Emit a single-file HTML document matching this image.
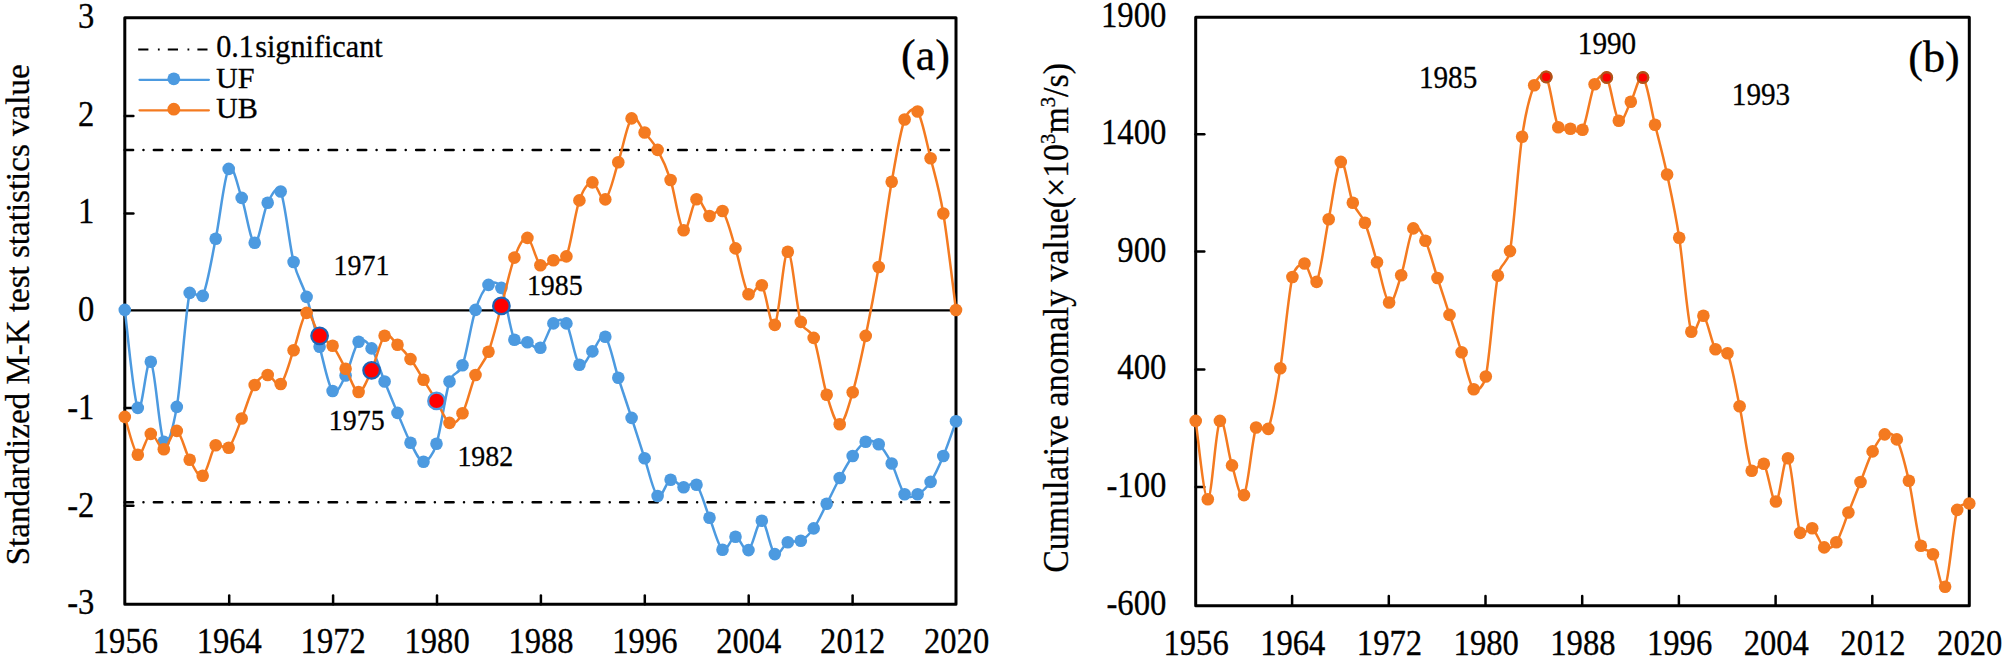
<!DOCTYPE html>
<html lang="en"><head><meta charset="utf-8"><title>M-K test and cumulative anomaly</title>
<style>html,body{margin:0;padding:0;background:#fff}body{width:2005px;height:658px;overflow:hidden}svg{display:block}</style>
</head><body>
<svg width="2005" height="658" viewBox="0 0 2005 658" font-family="'Liberation Serif', 'Times New Roman', serif" fill="#000">
<style>text{stroke:#000;stroke-width:0.3px}</style>
<rect width="2005" height="658" fill="#fff"/>
<line x1="124.7" y1="150.1" x2="954.0" y2="150.1" stroke="#000" stroke-width="2.5" stroke-linecap="round" stroke-dasharray="8.4 10.365 0.01 10.365"/>
<line x1="124.7" y1="502.2" x2="954.0" y2="502.2" stroke="#000" stroke-width="2.5" stroke-linecap="round" stroke-dasharray="8.4 10.365 0.01 10.365"/>
<line x1="124.8" y1="310.3" x2="956.0" y2="310.3" stroke="#000" stroke-width="2.3"/>
<line x1="229.2" y1="604.2" x2="229.2" y2="595.6" stroke="#000" stroke-width="2.5" stroke-linecap="round"/>
<line x1="333.1" y1="604.2" x2="333.1" y2="595.6" stroke="#000" stroke-width="2.5" stroke-linecap="round"/>
<line x1="437.0" y1="604.2" x2="437.0" y2="595.6" stroke="#000" stroke-width="2.5" stroke-linecap="round"/>
<line x1="540.9" y1="604.2" x2="540.9" y2="595.6" stroke="#000" stroke-width="2.5" stroke-linecap="round"/>
<line x1="644.8" y1="604.2" x2="644.8" y2="595.6" stroke="#000" stroke-width="2.5" stroke-linecap="round"/>
<line x1="748.7" y1="604.2" x2="748.7" y2="595.6" stroke="#000" stroke-width="2.5" stroke-linecap="round"/>
<line x1="852.6" y1="604.2" x2="852.6" y2="595.6" stroke="#000" stroke-width="2.5" stroke-linecap="round"/>
<line x1="124.8" y1="116.0" x2="133.4" y2="116.0" stroke="#000" stroke-width="2.5" stroke-linecap="round"/>
<line x1="124.8" y1="213.6" x2="133.4" y2="213.6" stroke="#000" stroke-width="2.5" stroke-linecap="round"/>
<line x1="124.8" y1="408.0" x2="133.4" y2="408.0" stroke="#000" stroke-width="2.5" stroke-linecap="round"/>
<line x1="124.8" y1="505.7" x2="133.4" y2="505.7" stroke="#000" stroke-width="2.5" stroke-linecap="round"/>
<rect x="124.8" y="17.7" width="831.2" height="586.5" fill="none" stroke="#000" stroke-width="3" stroke-linejoin="round"/>
<path d="M124.8,309.9C127.0,326.2 133.5,399.3 137.8,407.9C142.1,416.5 146.4,356.0 150.8,361.7C155.1,367.4 159.4,434.3 163.8,441.8C168.1,449.3 173.6,425.2 176.8,406.9C181.1,382.1 185.4,311.4 189.7,292.9C191.3,286.4 199.8,301.9 202.7,295.9C207.1,286.9 211.4,260.0 215.7,238.8C220.0,217.6 224.4,175.7 228.7,168.9C233.0,162.1 237.4,185.6 241.7,197.9C246.0,210.2 250.3,241.9 254.7,242.7C259.0,243.5 263.3,211.3 267.7,202.8C271.6,195.1 277.2,183.6 280.7,191.5C285.0,201.4 289.3,244.4 293.6,262.0C298.0,279.6 302.3,282.8 306.6,296.9C311.0,311.0 315.3,331.1 319.6,346.8C323.9,362.5 328.3,386.2 332.6,391.0C336.9,395.8 341.3,383.7 345.6,375.5C349.9,367.3 354.2,346.3 358.6,341.8C362.9,337.3 367.6,342.3 371.6,348.4C375.9,355.0 380.2,370.8 384.6,381.5C388.9,392.2 393.2,402.7 397.5,412.9C401.9,423.1 406.2,434.6 410.5,442.8C414.9,451.0 419.2,461.6 423.5,461.8C427.8,462.0 433.1,454.4 436.5,443.8C440.8,430.4 445.2,394.6 449.5,381.5C452.7,371.6 458.9,375.1 462.5,365.3C466.8,353.4 471.1,323.3 475.5,309.9C479.8,296.5 484.1,288.6 488.5,284.9C492.8,281.2 498.6,281.9 501.4,287.9C505.8,297.0 510.1,330.8 514.4,339.8C517.3,345.8 523.1,340.9 527.4,342.2C531.7,343.5 536.1,350.9 540.4,347.8C544.7,344.7 549.1,327.5 553.4,323.4C557.7,319.3 562.9,317.9 566.4,323.4C570.7,330.3 575.0,360.1 579.4,364.8C583.7,369.5 588.0,356.1 592.4,351.4C596.7,346.7 601.0,332.4 605.3,336.8C609.7,341.2 613.9,364.3 618.3,377.8C622.7,391.3 627.2,404.5 631.6,417.9C636.0,431.3 640.3,445.3 644.6,458.3C648.9,471.3 653.3,492.4 657.6,496.0C661.9,499.6 666.2,481.2 670.6,479.8C674.9,478.4 679.2,486.5 683.6,487.3C687.9,488.1 692.3,479.8 696.5,484.8C700.9,489.9 705.2,507.0 709.5,517.8C713.9,528.6 718.2,546.5 722.5,549.7C726.9,552.9 731.2,536.7 735.5,536.8C739.8,536.9 744.1,552.8 748.5,550.1C752.9,547.4 757.4,520.1 761.8,520.8C766.2,521.5 770.4,550.5 774.8,554.1C779.1,557.7 783.4,544.5 787.8,542.3C792.1,540.1 796.4,543.0 800.8,540.7C805.1,538.4 809.4,534.5 813.7,528.4C818.1,522.2 822.4,512.2 826.7,503.8C831.1,495.4 835.4,486.0 839.7,478.0C844.0,470.0 848.4,462.1 852.7,456.0C857.0,449.9 861.4,443.6 865.7,441.7C870.0,439.8 874.3,440.7 878.7,444.3C883.0,447.9 887.3,455.2 891.7,463.5C896.0,471.8 900.3,489.2 904.6,494.3C908.8,499.3 913.3,496.4 917.6,494.3C922.0,492.2 926.3,488.3 930.6,481.9C934.9,475.5 939.1,466.1 943.3,456.0C947.5,445.9 953.9,427.1 956.0,421.3" fill="none" stroke="#4C9AE0" stroke-width="2.5" stroke-linejoin="round"/>
<g fill="#4C9AE0"><circle cx="124.8" cy="309.9" r="6.3"/><circle cx="137.8" cy="407.9" r="6.3"/><circle cx="150.8" cy="361.7" r="6.3"/><circle cx="163.8" cy="441.8" r="6.3"/><circle cx="176.8" cy="406.9" r="6.3"/><circle cx="189.7" cy="292.9" r="6.3"/><circle cx="202.7" cy="295.9" r="6.3"/><circle cx="215.7" cy="238.8" r="6.3"/><circle cx="228.7" cy="168.9" r="6.3"/><circle cx="241.7" cy="197.9" r="6.3"/><circle cx="254.7" cy="242.7" r="6.3"/><circle cx="267.7" cy="202.8" r="6.3"/><circle cx="280.7" cy="191.5" r="6.3"/><circle cx="293.6" cy="262.0" r="6.3"/><circle cx="306.6" cy="296.9" r="6.3"/><circle cx="319.6" cy="346.8" r="6.3"/><circle cx="332.6" cy="391.0" r="6.3"/><circle cx="345.6" cy="375.5" r="6.3"/><circle cx="358.6" cy="341.8" r="6.3"/><circle cx="371.6" cy="348.4" r="6.3"/><circle cx="384.6" cy="381.5" r="6.3"/><circle cx="397.5" cy="412.9" r="6.3"/><circle cx="410.5" cy="442.8" r="6.3"/><circle cx="423.5" cy="461.8" r="6.3"/><circle cx="436.5" cy="443.8" r="6.3"/><circle cx="449.5" cy="381.5" r="6.3"/><circle cx="462.5" cy="365.3" r="6.3"/><circle cx="475.5" cy="309.9" r="6.3"/><circle cx="488.5" cy="284.9" r="6.3"/><circle cx="501.4" cy="287.9" r="6.3"/><circle cx="514.4" cy="339.8" r="6.3"/><circle cx="527.4" cy="342.2" r="6.3"/><circle cx="540.4" cy="347.8" r="6.3"/><circle cx="553.4" cy="323.4" r="6.3"/><circle cx="566.4" cy="323.4" r="6.3"/><circle cx="579.4" cy="364.8" r="6.3"/><circle cx="592.4" cy="351.4" r="6.3"/><circle cx="605.3" cy="336.8" r="6.3"/><circle cx="618.3" cy="377.8" r="6.3"/><circle cx="631.6" cy="417.9" r="6.3"/><circle cx="644.6" cy="458.3" r="6.3"/><circle cx="657.6" cy="496.0" r="6.3"/><circle cx="670.6" cy="479.8" r="6.3"/><circle cx="683.6" cy="487.3" r="6.3"/><circle cx="696.5" cy="484.8" r="6.3"/><circle cx="709.5" cy="517.8" r="6.3"/><circle cx="722.5" cy="549.7" r="6.3"/><circle cx="735.5" cy="536.8" r="6.3"/><circle cx="748.5" cy="550.1" r="6.3"/><circle cx="761.8" cy="520.8" r="6.3"/><circle cx="774.8" cy="554.1" r="6.3"/><circle cx="787.8" cy="542.3" r="6.3"/><circle cx="800.8" cy="540.7" r="6.3"/><circle cx="813.7" cy="528.4" r="6.3"/><circle cx="826.7" cy="503.8" r="6.3"/><circle cx="839.7" cy="478.0" r="6.3"/><circle cx="852.7" cy="456.0" r="6.3"/><circle cx="865.7" cy="441.7" r="6.3"/><circle cx="878.7" cy="444.3" r="6.3"/><circle cx="891.7" cy="463.5" r="6.3"/><circle cx="904.6" cy="494.3" r="6.3"/><circle cx="917.6" cy="494.3" r="6.3"/><circle cx="930.6" cy="481.9" r="6.3"/><circle cx="943.3" cy="456.0" r="6.3"/><circle cx="956.0" cy="421.3" r="6.3"/></g>
<path d="M124.8,416.9C127.0,423.2 133.5,452.0 137.8,454.8C142.1,457.6 146.4,434.8 150.8,433.9C155.1,433.0 159.4,449.7 163.8,449.2C168.1,448.7 172.4,429.1 176.8,430.9C181.1,432.7 185.4,452.3 189.7,459.8C194.1,467.3 198.4,478.1 202.7,475.7C207.1,473.3 211.4,449.8 215.7,445.2C220.0,440.6 224.4,452.2 228.7,447.8C233.0,443.4 237.4,429.0 241.7,418.5C246.0,408.0 250.3,392.2 254.7,385.0C258.9,378.0 263.3,375.2 267.7,375.0C272.0,374.8 276.3,388.1 280.7,384.0C285.0,379.9 289.3,362.1 293.6,350.2C298.0,338.3 302.3,315.3 306.6,312.9C311.0,310.5 315.3,330.3 319.6,335.8C323.9,341.3 328.3,340.3 332.6,345.8C336.9,351.3 341.3,361.0 345.6,368.7C349.9,376.4 354.2,391.7 358.6,392.0C362.9,392.3 367.2,379.7 371.6,370.3C375.9,360.9 380.2,340.1 384.6,335.8C388.9,331.6 393.2,340.9 397.5,344.8C401.9,348.7 406.2,353.3 410.5,359.1C414.9,364.9 419.2,372.8 423.5,379.8C427.8,386.8 432.2,393.7 436.5,400.9C440.8,408.1 445.2,420.8 449.5,422.9C453.8,425.0 458.6,420.4 462.5,413.3C466.8,405.3 471.1,385.2 475.5,375.0C479.8,364.8 484.1,363.3 488.5,351.8C492.8,340.3 497.1,321.6 501.4,305.9C505.8,290.2 510.1,268.9 514.4,257.6C518.6,246.6 523.1,236.6 527.4,237.9C531.7,239.2 536.1,261.5 540.4,265.2C544.7,268.9 549.1,261.7 553.4,260.2C557.7,258.7 563.7,262.6 566.4,256.4C570.7,246.4 575.0,212.7 579.4,200.4C583.0,189.9 588.0,182.6 592.4,182.4C596.7,182.2 601.0,202.8 605.3,199.4C609.7,196.0 613.9,175.7 618.3,162.2C622.7,148.7 627.2,123.4 631.6,118.4C636.0,113.5 640.3,127.2 644.6,132.5C648.9,137.8 653.3,142.0 657.6,149.9C661.9,157.8 666.2,166.6 670.6,180.0C674.9,193.4 679.2,227.1 683.6,230.3C687.9,233.5 692.2,201.7 696.5,199.3C700.9,196.9 705.2,214.1 709.5,216.0C713.9,217.9 718.2,205.6 722.5,211.0C726.9,216.4 731.2,234.5 735.5,248.4C739.8,262.3 744.1,288.2 748.5,294.3C752.9,300.4 757.4,280.2 761.8,285.3C766.2,290.4 770.4,330.5 774.8,324.9C779.1,319.3 783.4,252.3 787.8,251.8C792.1,251.3 796.4,307.5 800.8,321.9C803.7,331.8 810.3,328.2 813.7,337.9C818.1,350.0 822.4,380.3 826.7,394.7C831.1,409.1 835.4,424.7 839.7,424.3C844.0,423.9 848.4,406.9 852.7,392.2C857.0,377.5 861.4,356.8 865.7,335.9C870.0,315.0 874.3,292.7 878.7,267.0C883.0,241.3 887.3,206.4 891.7,181.8C896.0,157.2 900.3,131.2 904.6,119.5C907.3,112.3 913.4,105.2 917.6,111.5C922.0,118.0 926.3,141.2 930.6,158.2C934.9,175.2 939.1,188.2 943.3,213.5C947.5,238.8 953.9,293.9 956.0,310.0" fill="none" stroke="#F47A20" stroke-width="2.5" stroke-linejoin="round"/>
<g fill="#F47A20"><circle cx="124.8" cy="416.9" r="6.3"/><circle cx="137.8" cy="454.8" r="6.3"/><circle cx="150.8" cy="433.9" r="6.3"/><circle cx="163.8" cy="449.2" r="6.3"/><circle cx="176.8" cy="430.9" r="6.3"/><circle cx="189.7" cy="459.8" r="6.3"/><circle cx="202.7" cy="475.7" r="6.3"/><circle cx="215.7" cy="445.2" r="6.3"/><circle cx="228.7" cy="447.8" r="6.3"/><circle cx="241.7" cy="418.5" r="6.3"/><circle cx="254.7" cy="385.0" r="6.3"/><circle cx="267.7" cy="375.0" r="6.3"/><circle cx="280.7" cy="384.0" r="6.3"/><circle cx="293.6" cy="350.2" r="6.3"/><circle cx="306.6" cy="312.9" r="6.3"/><circle cx="319.6" cy="335.8" r="6.3"/><circle cx="332.6" cy="345.8" r="6.3"/><circle cx="345.6" cy="368.7" r="6.3"/><circle cx="358.6" cy="392.0" r="6.3"/><circle cx="371.6" cy="370.3" r="6.3"/><circle cx="384.6" cy="335.8" r="6.3"/><circle cx="397.5" cy="344.8" r="6.3"/><circle cx="410.5" cy="359.1" r="6.3"/><circle cx="423.5" cy="379.8" r="6.3"/><circle cx="436.5" cy="400.9" r="6.3"/><circle cx="449.5" cy="422.9" r="6.3"/><circle cx="462.5" cy="413.3" r="6.3"/><circle cx="475.5" cy="375.0" r="6.3"/><circle cx="488.5" cy="351.8" r="6.3"/><circle cx="501.4" cy="305.9" r="6.3"/><circle cx="514.4" cy="257.6" r="6.3"/><circle cx="527.4" cy="237.9" r="6.3"/><circle cx="540.4" cy="265.2" r="6.3"/><circle cx="553.4" cy="260.2" r="6.3"/><circle cx="566.4" cy="256.4" r="6.3"/><circle cx="579.4" cy="200.4" r="6.3"/><circle cx="592.4" cy="182.4" r="6.3"/><circle cx="605.3" cy="199.4" r="6.3"/><circle cx="618.3" cy="162.2" r="6.3"/><circle cx="631.6" cy="118.4" r="6.3"/><circle cx="644.6" cy="132.5" r="6.3"/><circle cx="657.6" cy="149.9" r="6.3"/><circle cx="670.6" cy="180.0" r="6.3"/><circle cx="683.6" cy="230.3" r="6.3"/><circle cx="696.5" cy="199.3" r="6.3"/><circle cx="709.5" cy="216.0" r="6.3"/><circle cx="722.5" cy="211.0" r="6.3"/><circle cx="735.5" cy="248.4" r="6.3"/><circle cx="748.5" cy="294.3" r="6.3"/><circle cx="761.8" cy="285.3" r="6.3"/><circle cx="774.8" cy="324.9" r="6.3"/><circle cx="787.8" cy="251.8" r="6.3"/><circle cx="800.8" cy="321.9" r="6.3"/><circle cx="813.7" cy="337.9" r="6.3"/><circle cx="826.7" cy="394.7" r="6.3"/><circle cx="839.7" cy="424.3" r="6.3"/><circle cx="852.7" cy="392.2" r="6.3"/><circle cx="865.7" cy="335.9" r="6.3"/><circle cx="878.7" cy="267.0" r="6.3"/><circle cx="891.7" cy="181.8" r="6.3"/><circle cx="904.6" cy="119.5" r="6.3"/><circle cx="917.6" cy="111.5" r="6.3"/><circle cx="930.6" cy="158.2" r="6.3"/><circle cx="943.3" cy="213.5" r="6.3"/><circle cx="956.0" cy="310.0" r="6.3"/></g>
<circle cx="319.6" cy="335.8" r="8.3" fill="#FF0000" stroke="#1C63B5" stroke-width="2.2"/>
<circle cx="371.6" cy="370.3" r="8.3" fill="#FF0000" stroke="#1C63B5" stroke-width="2.2"/>
<circle cx="436.5" cy="400.9" r="8.3" fill="#FF0000" stroke="#4C9AE0" stroke-width="2.2"/>
<circle cx="501.4" cy="305.9" r="8.3" fill="#FF0000" stroke="#1C63B5" stroke-width="2.2"/>
<text transform="translate(94.3 27.7) scale(0.934 1)" font-size="34.9" text-anchor="end">3</text>
<text transform="translate(94.3 125.5) scale(0.934 1)" font-size="34.9" text-anchor="end">2</text>
<text transform="translate(94.3 223.2) scale(0.934 1)" font-size="34.9" text-anchor="end">1</text>
<text transform="translate(94.3 320.9) scale(0.934 1)" font-size="34.9" text-anchor="end">0</text>
<text transform="translate(94.3 418.7) scale(0.934 1)" font-size="34.9" text-anchor="end">-1</text>
<text transform="translate(94.3 516.5) scale(0.934 1)" font-size="34.9" text-anchor="end">-2</text>
<text transform="translate(94.3 614.2) scale(0.934 1)" font-size="34.9" text-anchor="end">-3</text>
<text transform="translate(125.4 653.3) scale(0.934 1)" font-size="34.9" text-anchor="middle">1956</text>
<text transform="translate(229.3 653.3) scale(0.934 1)" font-size="34.9" text-anchor="middle">1964</text>
<text transform="translate(333.2 653.3) scale(0.934 1)" font-size="34.9" text-anchor="middle">1972</text>
<text transform="translate(437.1 653.3) scale(0.934 1)" font-size="34.9" text-anchor="middle">1980</text>
<text transform="translate(541.0 653.3) scale(0.934 1)" font-size="34.9" text-anchor="middle">1988</text>
<text transform="translate(644.9 653.3) scale(0.934 1)" font-size="34.9" text-anchor="middle">1996</text>
<text transform="translate(748.8 653.3) scale(0.934 1)" font-size="34.9" text-anchor="middle">2004</text>
<text transform="translate(852.7 653.3) scale(0.934 1)" font-size="34.9" text-anchor="middle">2012</text>
<text transform="translate(956.6 653.3) scale(0.934 1)" font-size="34.9" text-anchor="middle">2020</text>
<text transform="translate(29.2 565.3) rotate(-90) scale(0.9605 1)" font-size="34.4">Standardized M-K test statistics value</text>
<line x1="138.2" y1="49.5" x2="207.5" y2="49.5" stroke="#000" stroke-width="2.2" stroke-dasharray="10.2 9.5 1.8 8.1"/>
<line x1="139.5" y1="79.8" x2="208.9" y2="79.8" stroke="#4C9AE0" stroke-width="2.2" stroke-linecap="round"/><circle cx="173.8" cy="78.8" r="6.4" fill="#4C9AE0"/>
<line x1="139.5" y1="110.3" x2="208.9" y2="110.3" stroke="#F47A20" stroke-width="2.2" stroke-linecap="round"/><circle cx="173.8" cy="109.2" r="6.4" fill="#F47A20"/>
<text transform="translate(216.2 57.4) scale(0.975 1)" font-size="31.0">0.1<tspan dx="1.2">significant</tspan></text>
<text transform="translate(216.0 87.7) scale(1.0 1)" font-size="30.2">UF</text>
<text transform="translate(216.0 118.1) scale(1.0 1)" font-size="30.2">UB</text>
<text x="901" y="69.8" font-size="44">(a)</text>
<text transform="translate(333.6 274.5) scale(0.915 1)" font-size="30.5">1971</text>
<text transform="translate(526.9 295.2) scale(0.915 1)" font-size="30.5">1985</text>
<text transform="translate(328.8 430.2) scale(0.915 1)" font-size="30.5">1975</text>
<text transform="translate(457.4 466.0) scale(0.915 1)" font-size="30.5">1982</text>
<line x1="1292.1" y1="605.7" x2="1292.1" y2="596.1" stroke="#000" stroke-width="2.5" stroke-linecap="round"/>
<line x1="1388.8" y1="605.7" x2="1388.8" y2="596.1" stroke="#000" stroke-width="2.5" stroke-linecap="round"/>
<line x1="1485.5" y1="605.7" x2="1485.5" y2="596.1" stroke="#000" stroke-width="2.5" stroke-linecap="round"/>
<line x1="1582.2" y1="605.7" x2="1582.2" y2="596.1" stroke="#000" stroke-width="2.5" stroke-linecap="round"/>
<line x1="1678.9" y1="605.7" x2="1678.9" y2="596.1" stroke="#000" stroke-width="2.5" stroke-linecap="round"/>
<line x1="1775.6" y1="605.7" x2="1775.6" y2="596.1" stroke="#000" stroke-width="2.5" stroke-linecap="round"/>
<line x1="1872.3" y1="605.7" x2="1872.3" y2="596.1" stroke="#000" stroke-width="2.5" stroke-linecap="round"/>
<line x1="1195.7" y1="134.3" x2="1204.3" y2="134.3" stroke="#000" stroke-width="2.5" stroke-linecap="round"/>
<line x1="1195.7" y1="251.5" x2="1204.3" y2="251.5" stroke="#000" stroke-width="2.5" stroke-linecap="round"/>
<line x1="1195.7" y1="369.6" x2="1204.3" y2="369.6" stroke="#000" stroke-width="2.5" stroke-linecap="round"/>
<line x1="1195.7" y1="487.1" x2="1204.3" y2="487.1" stroke="#000" stroke-width="2.5" stroke-linecap="round"/>
<rect x="1195.7" y="17.3" width="773.5999999999999" height="588.4000000000001" fill="none" stroke="#000" stroke-width="3" stroke-linejoin="round"/>
<path d="M1195.7,420.9C1197.7,434.0 1203.8,499.3 1207.8,499.3C1211.8,499.3 1215.8,426.5 1219.9,420.9C1223.9,415.2 1227.9,453.0 1232.0,465.4C1236.0,477.8 1240.0,501.4 1244.0,495.1C1248.1,488.8 1252.1,438.5 1256.1,427.5C1258.2,421.8 1265.9,434.5 1268.2,428.9C1272.3,419.0 1276.3,393.6 1280.3,368.3C1284.3,343.0 1288.4,294.5 1292.4,277.0C1294.4,268.2 1300.5,262.7 1304.5,263.5C1308.5,264.3 1312.5,289.3 1316.6,281.9C1320.6,274.5 1324.6,239.2 1328.7,219.2C1332.7,199.2 1336.7,164.6 1340.8,161.9C1344.8,159.2 1348.8,192.7 1352.8,202.8C1356.9,213.0 1360.9,212.9 1364.9,222.8C1369.0,232.7 1373.0,249.0 1377.0,262.3C1381.0,275.6 1385.1,300.3 1389.1,302.5C1393.1,304.7 1397.2,287.7 1401.2,275.3C1405.2,262.9 1409.2,234.2 1413.3,228.4C1417.3,222.6 1421.6,232.9 1425.4,240.7C1429.4,249.0 1433.4,265.6 1437.5,278.0C1441.5,290.4 1445.5,302.5 1449.5,314.9C1453.6,327.3 1457.6,339.8 1461.6,352.2C1465.7,364.6 1469.7,385.2 1473.7,389.3C1477.7,393.4 1484.0,385.1 1485.8,376.5C1489.8,357.6 1493.9,296.5 1497.9,275.6C1500.5,262.2 1507.6,264.6 1510.0,251.1C1514.0,228.0 1518.0,164.5 1522.1,136.8C1525.9,110.6 1530.1,95.2 1534.2,85.2C1536.9,78.4 1542.6,70.5 1546.2,76.9C1550.3,83.9 1554.3,118.7 1558.3,127.3C1560.9,132.8 1566.4,128.3 1570.4,128.7C1574.4,129.1 1579.6,135.0 1582.5,129.7C1586.5,122.3 1590.6,92.9 1594.6,84.2C1597.5,77.9 1602.9,71.7 1606.7,77.5C1610.7,83.6 1614.7,116.7 1618.8,120.7C1622.8,124.8 1626.8,109.0 1630.8,101.8C1634.9,94.6 1638.9,73.7 1642.9,77.5C1647.0,81.3 1651.0,108.6 1655.0,124.8C1659.1,141.0 1663.1,155.7 1667.1,174.5C1671.1,193.3 1675.2,211.5 1679.2,237.7C1683.2,263.9 1687.3,318.8 1691.3,331.8C1694.3,341.4 1699.3,312.9 1703.4,315.8C1707.4,318.7 1711.4,342.9 1715.5,349.2C1718.9,354.6 1725.1,347.4 1727.5,353.3C1731.6,362.8 1735.6,386.7 1739.6,406.3C1743.7,425.9 1747.7,461.1 1751.7,470.7C1754.4,477.1 1759.8,458.7 1763.8,463.8C1767.8,468.9 1771.9,502.4 1775.9,501.5C1779.9,500.6 1784.0,453.0 1788.0,458.2C1792.0,463.4 1796.0,521.2 1800.1,532.9C1802.2,539.0 1808.1,525.9 1812.2,528.3C1816.2,530.7 1820.2,545.1 1824.2,547.4C1828.3,549.7 1832.6,547.6 1836.3,542.2C1840.4,536.4 1844.4,522.5 1848.4,512.5C1852.5,502.5 1856.5,492.2 1860.5,482.0C1864.5,471.8 1868.6,459.3 1872.6,451.4C1876.6,443.5 1880.7,436.4 1884.7,434.4C1888.7,432.4 1893.8,433.6 1896.8,439.4C1900.8,447.1 1904.8,463.1 1908.9,480.8C1912.9,498.5 1916.9,533.6 1920.9,545.8C1923.3,552.8 1929.3,547.9 1933.0,554.2C1937.1,561.0 1941.1,594.1 1945.1,586.7C1949.2,579.3 1953.2,523.8 1957.2,509.9C1959.1,503.3 1967.3,504.6 1969.3,503.5" fill="none" stroke="#F47A20" stroke-width="2.5" stroke-linejoin="round"/>
<g fill="#F47A20"><circle cx="1195.7" cy="420.9" r="6.3"/><circle cx="1207.8" cy="499.3" r="6.3"/><circle cx="1219.9" cy="420.9" r="6.3"/><circle cx="1232.0" cy="465.4" r="6.3"/><circle cx="1244.0" cy="495.1" r="6.3"/><circle cx="1256.1" cy="427.5" r="6.3"/><circle cx="1268.2" cy="428.9" r="6.3"/><circle cx="1280.3" cy="368.3" r="6.3"/><circle cx="1292.4" cy="277.0" r="6.3"/><circle cx="1304.5" cy="263.5" r="6.3"/><circle cx="1316.6" cy="281.9" r="6.3"/><circle cx="1328.7" cy="219.2" r="6.3"/><circle cx="1340.8" cy="161.9" r="6.3"/><circle cx="1352.8" cy="202.8" r="6.3"/><circle cx="1364.9" cy="222.8" r="6.3"/><circle cx="1377.0" cy="262.3" r="6.3"/><circle cx="1389.1" cy="302.5" r="6.3"/><circle cx="1401.2" cy="275.3" r="6.3"/><circle cx="1413.3" cy="228.4" r="6.3"/><circle cx="1425.4" cy="240.7" r="6.3"/><circle cx="1437.5" cy="278.0" r="6.3"/><circle cx="1449.5" cy="314.9" r="6.3"/><circle cx="1461.6" cy="352.2" r="6.3"/><circle cx="1473.7" cy="389.3" r="6.3"/><circle cx="1485.8" cy="376.5" r="6.3"/><circle cx="1497.9" cy="275.6" r="6.3"/><circle cx="1510.0" cy="251.1" r="6.3"/><circle cx="1522.1" cy="136.8" r="6.3"/><circle cx="1534.2" cy="85.2" r="6.3"/><circle cx="1546.2" cy="76.9" r="6.3"/><circle cx="1558.3" cy="127.3" r="6.3"/><circle cx="1570.4" cy="128.7" r="6.3"/><circle cx="1582.5" cy="129.7" r="6.3"/><circle cx="1594.6" cy="84.2" r="6.3"/><circle cx="1606.7" cy="77.5" r="6.3"/><circle cx="1618.8" cy="120.7" r="6.3"/><circle cx="1630.8" cy="101.8" r="6.3"/><circle cx="1642.9" cy="77.5" r="6.3"/><circle cx="1655.0" cy="124.8" r="6.3"/><circle cx="1667.1" cy="174.5" r="6.3"/><circle cx="1679.2" cy="237.7" r="6.3"/><circle cx="1691.3" cy="331.8" r="6.3"/><circle cx="1703.4" cy="315.8" r="6.3"/><circle cx="1715.5" cy="349.2" r="6.3"/><circle cx="1727.5" cy="353.3" r="6.3"/><circle cx="1739.6" cy="406.3" r="6.3"/><circle cx="1751.7" cy="470.7" r="6.3"/><circle cx="1763.8" cy="463.8" r="6.3"/><circle cx="1775.9" cy="501.5" r="6.3"/><circle cx="1788.0" cy="458.2" r="6.3"/><circle cx="1800.1" cy="532.9" r="6.3"/><circle cx="1812.2" cy="528.3" r="6.3"/><circle cx="1824.2" cy="547.4" r="6.3"/><circle cx="1836.3" cy="542.2" r="6.3"/><circle cx="1848.4" cy="512.5" r="6.3"/><circle cx="1860.5" cy="482.0" r="6.3"/><circle cx="1872.6" cy="451.4" r="6.3"/><circle cx="1884.7" cy="434.4" r="6.3"/><circle cx="1896.8" cy="439.4" r="6.3"/><circle cx="1908.9" cy="480.8" r="6.3"/><circle cx="1920.9" cy="545.8" r="6.3"/><circle cx="1933.0" cy="554.2" r="6.3"/><circle cx="1945.1" cy="586.7" r="6.3"/><circle cx="1957.2" cy="509.9" r="6.3"/><circle cx="1969.3" cy="503.5" r="6.3"/></g>
<circle cx="1546.2" cy="76.9" r="5.3" fill="#FF0000" stroke="#B0521A" stroke-width="2.4"/>
<circle cx="1606.7" cy="77.5" r="5.3" fill="#FF0000" stroke="#B0521A" stroke-width="2.4"/>
<circle cx="1642.9" cy="77.5" r="5.3" fill="#FF0000" stroke="#B0521A" stroke-width="2.4"/>
<text transform="translate(1166.5 26.6) scale(0.905 1)" font-size="36.2" text-anchor="end">1900</text>
<text transform="translate(1166.5 144.2) scale(0.905 1)" font-size="36.2" text-anchor="end">1400</text>
<text transform="translate(1166.5 261.9) scale(0.905 1)" font-size="36.2" text-anchor="end">900</text>
<text transform="translate(1166.5 379.4) scale(0.905 1)" font-size="36.2" text-anchor="end">400</text>
<text transform="translate(1166.5 497.1) scale(0.905 1)" font-size="36.2" text-anchor="end">-100</text>
<text transform="translate(1166.5 614.6) scale(0.905 1)" font-size="36.2" text-anchor="end">-600</text>
<text transform="translate(1196.1 654.6) scale(0.902 1)" font-size="36.2" text-anchor="middle">1956</text>
<text transform="translate(1292.8 654.6) scale(0.902 1)" font-size="36.2" text-anchor="middle">1964</text>
<text transform="translate(1389.5 654.6) scale(0.902 1)" font-size="36.2" text-anchor="middle">1972</text>
<text transform="translate(1486.2 654.6) scale(0.902 1)" font-size="36.2" text-anchor="middle">1980</text>
<text transform="translate(1582.9 654.6) scale(0.902 1)" font-size="36.2" text-anchor="middle">1988</text>
<text transform="translate(1679.6 654.6) scale(0.902 1)" font-size="36.2" text-anchor="middle">1996</text>
<text transform="translate(1776.3 654.6) scale(0.902 1)" font-size="36.2" text-anchor="middle">2004</text>
<text transform="translate(1873.0 654.6) scale(0.902 1)" font-size="36.2" text-anchor="middle">2012</text>
<text transform="translate(1969.7 654.6) scale(0.902 1)" font-size="36.2" text-anchor="middle">2020</text>
<text transform="translate(1067.7 572.8) rotate(-90) scale(0.962 1)" font-size="35.2">Cumulative anomaly value(×10<tspan font-size="21.5" dy="-12.5">3</tspan><tspan dy="12.5">m</tspan><tspan font-size="21.5" dy="-12.5">3</tspan><tspan dy="12.5">/s)</tspan></text>
<text x="1908.3" y="71.6" font-size="44.2">(b)</text>
<text transform="translate(1418.9 88.2) scale(0.904 1)" font-size="32.3">1985</text>
<text transform="translate(1577.8 53.6) scale(0.904 1)" font-size="32.3">1990</text>
<text transform="translate(1731.8 105.0) scale(0.904 1)" font-size="32.3">1993</text>
</svg>
</body></html>
